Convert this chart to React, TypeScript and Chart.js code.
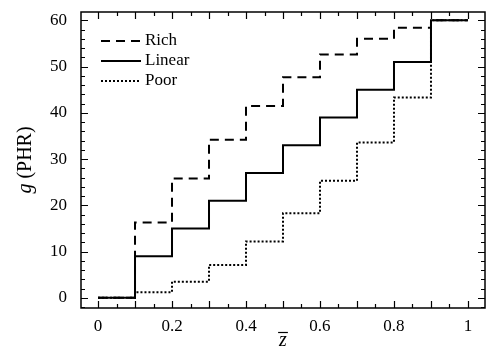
import React, { useEffect, useRef } from "react";
import { Chart, registerables } from "chart.js";

Chart.register(...registerables);

// Step positions along the normalised thickness coordinate
const zSteps = [0, 0.1, 0.2, 0.3, 0.4, 0.5, 0.6, 0.7, 0.8, 0.9, 1.0];
// Filler content g (PHR) for each layer, last value repeated to close the final step
const richValues = [0, 16.3, 25.8, 34.2, 41.5, 47.7, 52.6, 56.0, 58.4, 60, 60];
const linearValues = [0, 9, 15, 21, 27, 33, 39, 45, 51, 60, 60];
const poorValues = [0, 1.2, 3.5, 7.1, 12.2, 18.3, 25.3, 33.6, 43.3, 60, 60];

const xTickLabels = [0, 0.2, 0.4, 0.6, 0.8, 1];
const yTickLabels = [0, 10, 20, 30, 40, 50, 60];

const seriesNames = ["Rich", "Linear", "Poor"];

const SERIF = "'Liberation Serif', 'DejaVu Serif', serif";

const toPoints = (vals: number[]) => vals.map((v, i) => ({ x: zSteps[i], y: v }));

const dashFor: Record<string, number[]> = {
  Rich: [9, 6],
  Linear: [],
  Poor: [2, 2],
};

const framePlugin = {
  id: "frameAndTicks",
  afterDatasetsDraw(chart: any) {
    const { ctx, chartArea: a, scales } = chart;
    const xs = scales.x;
    const ys = scales.y;
    ctx.save();
    ctx.strokeStyle = "#000";
    ctx.lineWidth = 1.5;
    ctx.setLineDash([]);
    ctx.strokeRect(a.left, a.top, a.right - a.left, a.bottom - a.top);
    ctx.lineWidth = 1.2;
    // x ticks, inward on bottom and top
    for (let k = 0; k <= 20; k++) {
      const v = k * 0.05;
      const px = Math.round(xs.getPixelForValue(v)) + 0.5;
      const len = k % 2 === 0 ? 7 : 4;
      ctx.beginPath();
      ctx.moveTo(px, a.bottom);
      ctx.lineTo(px, a.bottom - len);
      ctx.moveTo(px, a.top);
      ctx.lineTo(px, a.top + len);
      ctx.stroke();
    }
    // y ticks, inward on left and right
    for (let v = -2; v <= 60; v += 2) {
      const py = Math.round(ys.getPixelForValue(v)) + 0.5;
      const len = v % 10 === 0 ? 7 : 4;
      ctx.beginPath();
      ctx.moveTo(a.left, py);
      ctx.lineTo(a.left + len, py);
      ctx.moveTo(a.right, py);
      ctx.lineTo(a.right - len, py);
      ctx.stroke();
    }

    // legend
    const lx0 = a.left + 20;
    const lx1 = a.left + 60;
    const ly0 = a.top + 29;
    chart.data.datasets.forEach((ds: any, i: number) => {
      const y = ly0 + i * 20;
      ctx.beginPath();
      ctx.lineWidth = ds.borderWidth;
      ctx.setLineDash(ds.borderDash || []);
      ctx.moveTo(lx0, y);
      ctx.lineTo(lx1, y);
      ctx.stroke();
      ctx.setLineDash([]);
      ctx.fillStyle = "#000";
      ctx.font = `17px ${SERIF}`;
      ctx.textAlign = "left";
      ctx.textBaseline = "middle";
      ctx.fillText(ds.label, lx1 + 4, y);
    });

    // axis titles
    ctx.fillStyle = "#000";
    ctx.textBaseline = "middle";
    // y title: italic g followed by (PHR), rotated
    ctx.save();
    ctx.translate(26, (a.top + a.bottom) / 2);
    ctx.rotate(-Math.PI / 2);
    ctx.font = `italic 20px ${SERIF}`;
    const gW = ctx.measureText("g").width;
    ctx.font = `20px ${SERIF}`;
    const restW = ctx.measureText(" (PHR)").width;
    const total = gW + restW;
    ctx.textAlign = "left";
    ctx.font = `italic 20px ${SERIF}`;
    ctx.fillText("g", -total / 2, 0);
    ctx.font = `20px ${SERIF}`;
    ctx.fillText(" (PHR)", -total / 2 + gW, 0);
    ctx.restore();

    // x title: italic z with overbar
    const cx = (a.left + a.right) / 2;
    const cy = 341;
    ctx.font = `italic 20px ${SERIF}`;
    ctx.textAlign = "center";
    ctx.fillText("z", cx, cy);
    const zw = ctx.measureText("z").width;
    ctx.lineWidth = 1.2;
    ctx.beginPath();
    ctx.moveTo(cx - zw / 2 - 1, cy - 8.5);
    ctx.lineTo(cx + zw / 2 + 1, cy - 8.5);
    ctx.stroke();
    ctx.restore();
  },
};

export default function App() {
  const canvasRef = useRef<HTMLCanvasElement | null>(null);

  useEffect(() => {
    if (!canvasRef.current) return;
    const seriesValues = [richValues, linearValues, poorValues];
    const chart = new Chart(canvasRef.current, {
      type: "line",
      data: {
        datasets: seriesNames.map((name, i) => ({
          label: name,
          data: toPoints(seriesValues[i]),
          stepped: "before" as const,
          borderColor: "#000",
          borderWidth: 2,
          borderDash: dashFor[name],
          pointRadius: 0,
          fill: false,
        })),
      },
      options: {
        animation: false,
        responsive: false,
        layout: { padding: { top: 12, right: 2, left: 0, bottom: 0 } },
        plugins: {
          legend: { display: false },
          tooltip: { enabled: false },
        },
        scales: {
          x: {
            type: "linear",
            min: -0.046,
            max: 1.046,
            grid: { display: false, drawTicks: false },
            border: { display: false },
            afterBuildTicks: (s: any) => {
              s.ticks = xTickLabels.map((v) => ({ value: v }));
            },
            afterFit: (s: any) => {
              s.height = 49;
              s.paddingLeft = 0;
              s.paddingRight = 0;
            },
            ticks: {
              color: "#000",
              font: { family: SERIF, size: 17 },
              padding: 8,
              maxRotation: 0,
              callback: (v: any) => String(v),
            },
          },
          y: {
            type: "linear",
            min: -2.2,
            max: 61.8,
            grid: { display: false, drawTicks: false },
            border: { display: false },
            afterBuildTicks: (s: any) => {
              s.ticks = yTickLabels.map((v) => ({ value: v }));
            },
            afterFit: (s: any) => {
              s.width = 81;
              s.paddingTop = 0;
              s.paddingBottom = 0;
            },
            ticks: {
              color: "#000",
              font: { family: SERIF, size: 17 },
              padding: 14,
              callback: (v: any) => String(v),
            },
          },
        },
      },
      plugins: [framePlugin],
    });
    return () => chart.destroy();
  }, []);

  return (
    <div style={{ position: "fixed", left: 0, top: 0, width: 487, height: 357, background: "#fff" }}>
      <canvas ref={canvasRef} width={487} height={357} style={{ width: 487, height: 357 }} />
    </div>
  );
}
